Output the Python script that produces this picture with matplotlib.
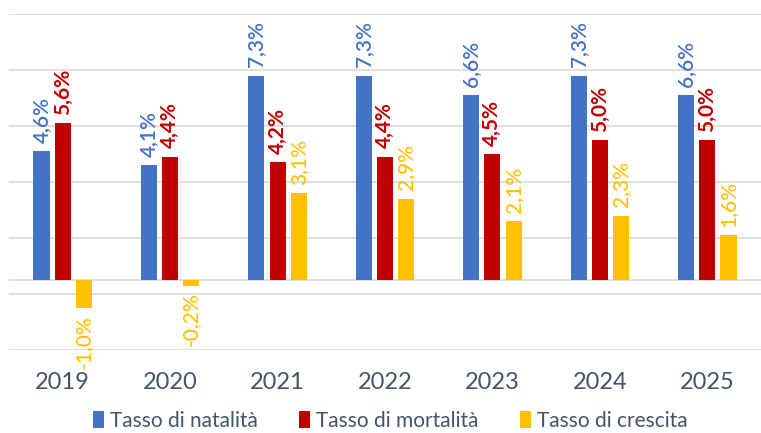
import numpy as np
import matplotlib.pyplot as plt

plt.rcParams['font.family'] = ['Lato', 'DejaVu Sans']

anni = ['2019', '2020', '2021', '2022', '2023', '2024', '2025']
natalita = [4.6, 4.1, 7.3, 7.3, 6.6, 7.3, 6.6]
mortalita = [5.6, 4.4, 4.2, 4.4, 4.5, 5.0, 5.0]
crescita = [-1.0, -0.2, 3.1, 2.9, 2.1, 2.3, 1.6]

serie = [
    ('Tasso di natalità', natalita, '#4472C4', 'semibold'),
    ('Tasso di mortalità', mortalita, '#C00000', 'bold'),
    ('Tasso di crescita', crescita, '#FFC000', 'medium'),
]

fig = plt.figure(figsize=(7.61, 4.33), dpi=100)
ax = fig.add_axes([9 / 761, 1 - 350 / 433, 752 / 761, 336 / 433])

x = np.arange(len(anni))
width = 0.15
step = 0.197

for i, (nome, vals, col, peso) in enumerate(serie):
    pos = x + (i - 1) * step
    ax.bar(pos, vals, width, color=col, label=nome, zorder=3)
    for px, v in zip(pos, vals):
        testo = f"{v:.1f}%".replace('.', ',')
        if v >= 0:
            ax.annotate(testo, (px, v), xytext=(0, 6), textcoords='offset points',
                        rotation=90, ha='center', va='bottom', color=col,
                        fontsize=15, fontweight=peso)
        else:
            ax.annotate(testo, (px, v), xytext=(0, -5), textcoords='offset points',
                        rotation=90, ha='center', va='top', color=col,
                        fontsize=15, fontweight=peso)

ax.set_ylim(-2.5, 9.5)
ax.set_xlim(-0.5, len(anni) - 0.5)
ax.set_yticks(np.arange(-2.5, 9.6, 2))
ax.yaxis.grid(True, color='#D9D9D9', linewidth=1.2, zorder=0)
ax.axhline(0, color='#D9D9D9', linewidth=1.2, zorder=1)
ax.tick_params(axis='y', left=False, labelleft=False)
ax.tick_params(axis='x', bottom=False, pad=12, labelsize=17, labelcolor='#44546A')
ax.set_xticks(x)
ax.set_xticklabels(anni)
for s in ax.spines.values():
    s.set_visible(False)

leg = fig.legend(loc='center', bbox_to_anchor=(0.513, 1 - 421 / 433), ncol=3, frameon=False,
                 fontsize=15, handlelength=0.5, handleheight=0.9, handletextpad=0.3,
                 columnspacing=2.0, borderpad=0.2)
for t in leg.get_texts():
    t.set_color('#44546A')

fig.savefig('out.png', dpi=100)
